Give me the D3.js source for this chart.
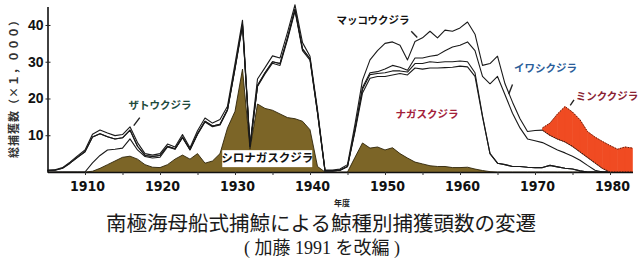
<!DOCTYPE html>
<html>
<head>
<meta charset="utf-8">
<script src="https://cdn.jsdelivr.net/npm/d3@7"></script>
<style>
  body { margin: 0; background: #fff; }
  #chart { width: 641px; height: 265px; }
</style>
</head>
<body>
<div id="chart"></div>
<script>
// catches per season, x 1,000
const years = [
  1905, 1906, 1907, 1908, 1909,
  1910, 1911, 1912, 1913, 1914, 1915, 1916, 1917, 1918, 1919,
  1920, 1921, 1922, 1923, 1924, 1925, 1926, 1927, 1928, 1929,
  1930, 1931, 1932, 1933, 1934, 1935, 1936, 1937, 1938, 1939,
  1940, 1941, 1942, 1943, 1944, 1945, 1946, 1947, 1948, 1949,
  1950, 1951, 1952, 1953, 1954, 1955, 1956, 1957, 1958, 1959,
  1960, 1961, 1962, 1963, 1964, 1965, 1966, 1967, 1968, 1969,
  1970, 1971, 1972, 1973, 1974, 1975, 1976, 1977, 1978, 1979,
  1980, 1981, 1982, 1983
];
const blue = [
  0, 0, 0, 0, 0,
  0, 0.2, 1, 2, 3, 4, 4.3, 3.5, 2, 1.3,
  1.2, 2, 3.5, 4.6, 3.5, 5, 2.4, 3, 5, 12,
  16.5, 28, 6.2, 18.5, 17.3, 16.8, 15.8, 14.8, 14.5, 13.8,
  11.5, 1.5, 0, 0, 0, 0, 4, 7.9, 6.5, 6.8,
  6, 6.6, 5, 3.8, 2.7, 2.2, 1.7, 1.5, 1.5, 1.2,
  1.2, 1.3, 0.8, 0.4, 0.1, 0, 0, 0, 0, 0,
  0, 0, 0, 0, 0, 0, 0, 0, 0, 0,
  0, 0, 0, 0
];
const fin = [
  0, 0, 0, 0, 0,
  0, 2.3, 3.5, 4, 3.2, 2.5, 4.7, 2.5, 2.2, 2.5,
  2.8, 4.8, 2.7, 4.7, 2.5, 5.2, 11.2, 9.3, 7.8, 4.8,
  11.5, 11.8, 0.6, 4.8, 9.4, 12.8, 13.2, 21.2, 29.3, 19.2,
  18.9, 14.5, 0.3, 0.3, 0.5, 1.5, 7, 13.6, 19, 19.2,
  20, 19.8, 21.8, 22.6, 25.6, 25.8, 26.6, 26.8, 26.9, 27.3,
  27.6, 27.3, 25.2, 14.6, 4.9, 2.4, 2, 1.5, 1.5, 1.3,
  1.2, 1.2, 1.8, 1.4, 1, 0.8, 0.3, 0, 0, 0,
  0, 0, 0, 0
];
const humpback = [
  0.4, 0.5, 1.0, 2.4, 4.0,
  5.5, 7.0, 5.9, 3.6, 2.8, 2.8, 2.4, 1.0, 0.3, 0.4,
  0.5, 0.2, 0.1, 0.2, 0.1, 0.2, 0.2, 0.2, 0.2, 0.2,
  0.3, 0.4, 0.2, 0.2, 0.3, 0.4, 0.5, 0.5, 0.5, 0.5,
  0.4, 0.3, 0, 0, 0, 0, 0.5, 1.0, 1.0, 0.8,
  1.0, 1.1, 0.7, 0.8, 1.2, 1.5, 1.7, 1.5, 1.6, 1.5,
  1.4, 1.4, 1.0, 0.3, 0, 0, 0, 0, 0, 0,
  0, 0, 0, 0, 0, 0, 0, 0, 0, 0,
  0, 0, 0, 0
];
const sei = [
  0, 0, 0, 0, 0,
  0, 0, 0, 0, 0, 0, 0, 0, 0, 0,
  0, 0, 0, 0, 0, 0, 0, 0, 0, 0,
  0, 0, 0, 0, 0, 0, 0, 0, 0, 0,
  0, 0, 0, 0, 0, 0, 0.1, 0.5, 0.5, 0.5,
  1.0, 1.5, 1.0, 0.5, 1.5, 1.5, 1.5, 2.0, 3.0, 4.0,
  4.3, 5.4, 6.0, 10.7, 19, 23.6, 19, 14.5, 10.5, 7.7,
  7.3, 6.8, 5.2, 4.6, 4.2, 3.5, 2.9, 1.8, 0.5, 0,
  0, 0, 0, 0
];
const sperm = [
  0.1, 0.1, 0.2, 0.3, 0.4,
  0.5, 0.8, 1.0, 1.0, 0.9, 0.9, 0.9, 1.0, 0.5, 0.4,
  0.5, 0.6, 0.5, 0.7, 0.5, 0.8, 0.9, 0.8, 1.3, 0.9,
  1.2, 1.1, 0.4, 1.8, 1.4, 1.6, 1.5, 1.5, 1.2, 1.7,
  0.7, 0.7, 0.2, 0.2, 0.3, 0.5, 1.4, 2.0, 3.5, 5.7,
  7.0, 6.4, 6.0, 2.8, 4.5, 5.5, 6.8, 4.7, 5.6, 4.3,
  4.7, 5.4, 4.5, 3.0, 5.5, 5.5, 3.0, 3.0, 2.5, 2.0,
  2.8, 3.4, 3.0, 3.0, 3.0, 2.7, 2.3, 2.2, 2.0, 1.0,
  0, 0, 0, 0
];
const minke = [
  0, 0, 0, 0, 0,
  0, 0, 0, 0, 0, 0, 0, 0, 0, 0,
  0, 0, 0, 0, 0, 0, 0, 0, 0, 0,
  0, 0, 0, 0, 0, 0, 0, 0, 0, 0,
  0, 0, 0, 0, 0, 0, 0, 0, 0, 0,
  0, 0, 0, 0, 0, 0, 0, 0, 0, 0,
  0, 0, 0, 0, 0, 0, 0, 0, 0, 0,
  0, 0.6, 3.3, 6.8, 9.6, 9.3, 8.7, 7.0, 7.0, 7.3,
  7.2, 6.2, 6.8, 6.5
];

const xTicks = [1910, 1915, 1920, 1925, 1930, 1935, 1940, 1945, 1950, 1955, 1960, 1965, 1970, 1975, 1980];
const yTicks = [10, 20, 30, 40];

// species labels: [text, year, value, colour]
const labels = [
  ["ザトウクジラ", 1920, 18, "#1d4a3c"],
  ["マッコウクジラ", 1948.4, 41, "#111"],
  ["ナガスクジラ", 1955.6, 15.6, "#a3213a"],
  ["イワシクジラ", 1971.4, 28, "#2b5d99"],
  ["ミンククジラ", 1979.6, 20.3, "#8a2333"]
];
// small pointers: [year1, value1, year2, value2]
const pointers = [
  [1917.3, 14.8, 1916.5, 12.6],
  [1953.5, 38.3, 1954.3, 36.6],
  [1967.0, 23.8, 1966.5, 21.2],
  [1975.2, 19.6, 1974.7, 18.1]
];

const width = 641, height = 265;

const svg = d3.select("#chart")
  .append("svg")
  .attr("width", width)
  .attr("height", height)
  .attr("viewBox", [0, 0, width, height]);

const x = d3.scaleLinear().domain([1905, 1983]).range([47.5, 632.5]);
const y = d3.scaleLinear().domain([0, 45]).range([172, 6.6]);

const rows = years.map((yr, i) => ({
  year: yr, blue: blue[i], fin: fin[i], humpback: humpback[i],
  sei: sei[i], sperm: sperm[i], minke: minke[i]
}));
const keys = ["blue", "fin", "humpback", "sei", "sperm", "minke"];
const series = d3.stack().keys(keys)(rows);

const area = d3.area()
  .x(d => x(d.data.year))
  .y0(d => y(d[0]))
  .y1(d => y(d[1]));
const topLine = d3.line()
  .x(d => x(d.data.year))
  .y(d => y(d[1]));

// blue whale (brown fill)
svg.append("path")
  .datum(series[0])
  .attr("fill", "#7c6527")
  .attr("d", area);
svg.append("path")
  .datum(series[0])
  .attr("fill", "none")
  .attr("stroke", "#2e2408")
  .attr("stroke-width", 0.9)
  .attr("d", topLine);

// boundary lines of the other species
series.slice(1, 5).forEach(s => {
  svg.append("path")
    .datum(s)
    .attr("fill", "none")
    .attr("stroke", "#1a1a1a")
    .attr("stroke-width", 1.1)
    .attr("stroke-linejoin", "round")
    .attr("d", topLine);
});

// minke (red fill), one band per season step
const firstMinke = rows.findIndex(d => d.minke > 0);
const minkeData = series[5].slice(firstMinke);
svg.append("g")
  .selectAll("path")
  .data(d3.pairs(minkeData))
  .enter().append("path")
  .attr("fill", "#f04b22")
  .attr("stroke", "#f04b22")
  .attr("stroke-width", 0.6)
  .attr("d", d => area(d));

// lower and upper edges of the red band
svg.append("path")
  .attr("fill", "none")
  .attr("stroke", "#3a1a10")
  .attr("stroke-width", 1)
  .attr("stroke-dasharray", "1.5,1.2")
  .attr("d", d3.line().x(d => x(d.data.year)).y(d => y(d[0]))(minkeData));

svg.append("path")
  .attr("fill", "none")
  .attr("stroke", "#5b1c0c")
  .attr("stroke-width", 1)
  .attr("stroke-dasharray", "1.5,1.2")
  .attr("d", topLine(minkeData));

// axes
const xAxis = svg.append("g")
  .attr("transform", `translate(0,${y(0)})`)
  .call(d3.axisBottom(x)
    .tickValues(xTicks)
    .tickSize(3)
    .tickSizeOuter(0)
    .tickFormat(d => d % 10 === 0 ? d : ""));
xAxis.select(".domain").attr("stroke", "#111").attr("stroke-width", 1.6);
xAxis.selectAll(".tick line").attr("stroke", "#333");
xAxis.selectAll("text")
  .attr("dy", "0.95em")
  .attr("dx", "2")
  .style("font-family", "'Liberation Sans Narrow', 'DejaVu Sans Condensed', Arial, sans-serif")
  .style("font-weight", "bold")
  .style("font-size", "14px")
  .attr("fill", "#111");

const yAxis = svg.append("g")
  .attr("transform", `translate(${x(1905)},0)`)
  .call(d3.axisLeft(y)
    .tickValues(yTicks)
    .tickSize(-3)
    .tickSizeOuter(0));
yAxis.select(".domain").attr("stroke", "#111").attr("stroke-width", 1.6);
yAxis.selectAll(".tick line").attr("stroke", "#222").attr("x1", -2).attr("x2", 3);
yAxis.selectAll("text")
  .attr("x", -4)
  .style("font-family", "'Liberation Sans', Arial, sans-serif")
  .style("font-weight", "bold")
  .style("font-size", "14px")
  .attr("fill", "#111");

// y axis title
svg.append("text")
  .attr("transform", "translate(15,86) rotate(-90)")
  .attr("text-anchor", "middle")
  .attr("dominant-baseline", "middle")
  .style("font-family", "'Noto Sans CJK JP', sans-serif")
  .style("font-weight", "bold")
  .style("font-size", "11px")
  .style("letter-spacing", "1px")
  .attr("fill", "#333")
  .text("総捕獲数（×１，０００）");

// species labels
const labelFont = "'Noto Sans CJK JP', sans-serif";

// white box for the blue whale label
const boxCx = x(1934.3), boxCy = y(3.5);
svg.append("rect")
  .attr("x", boxCx - 45)
  .attr("y", boxCy - 9)
  .attr("width", 90)
  .attr("height", 17)
  .attr("fill", "#fff");
svg.append("text")
  .attr("x", boxCx)
  .attr("y", boxCy)
  .attr("text-anchor", "middle")
  .attr("dominant-baseline", "middle")
  .style("font-family", labelFont)
  .style("font-weight", "bold")
  .style("font-size", "11.5px")
  .attr("fill", "#111")
  .text("シロナガスクジラ");

svg.selectAll("text.species")
  .data(labels)
  .enter().append("text")
  .attr("class", "species")
  .attr("x", d => x(d[1]))
  .attr("y", d => y(d[2]))
  .attr("text-anchor", "middle")
  .attr("dominant-baseline", "middle")
  .style("font-family", labelFont)
  .style("font-weight", "bold")
  .style("font-size", "10.5px")
  .attr("fill", d => d[3])
  .text(d => d[0]);

svg.selectAll("line.pointer")
  .data(pointers)
  .enter().append("line")
  .attr("class", "pointer")
  .attr("x1", d => x(d[0]))
  .attr("y1", d => y(d[1]))
  .attr("x2", d => x(d[2]))
  .attr("y2", d => y(d[3]))
  .attr("stroke", "#222")
  .attr("stroke-width", 1.4);

// x axis title and caption
svg.append("text")
  .attr("x", 342)
  .attr("y", 206)
  .attr("text-anchor", "middle")
  .style("font-family", labelFont)
  .style("font-weight", "bold")
  .style("font-size", "8px")
  .attr("fill", "#222")
  .text("年度");

svg.append("text")
  .attr("x", 321)
  .attr("y", 231)
  .attr("text-anchor", "middle")
  .style("font-family", labelFont)
  .style("font-size", "20.5px")
  .attr("fill", "#1a1a1a")
  .text("南極海母船式捕鯨による鯨種別捕獲頭数の変遷");

svg.append("text")
  .attr("x", 322)
  .attr("y", 254)
  .attr("text-anchor", "middle")
  .style("font-family", "'Liberation Serif', 'Noto Sans CJK JP', serif")
  .style("font-size", "18px")
  .attr("fill", "#1a1a1a")
  .text("( 加藤 1991 を改編 )");
</script>
</body>
</html>
